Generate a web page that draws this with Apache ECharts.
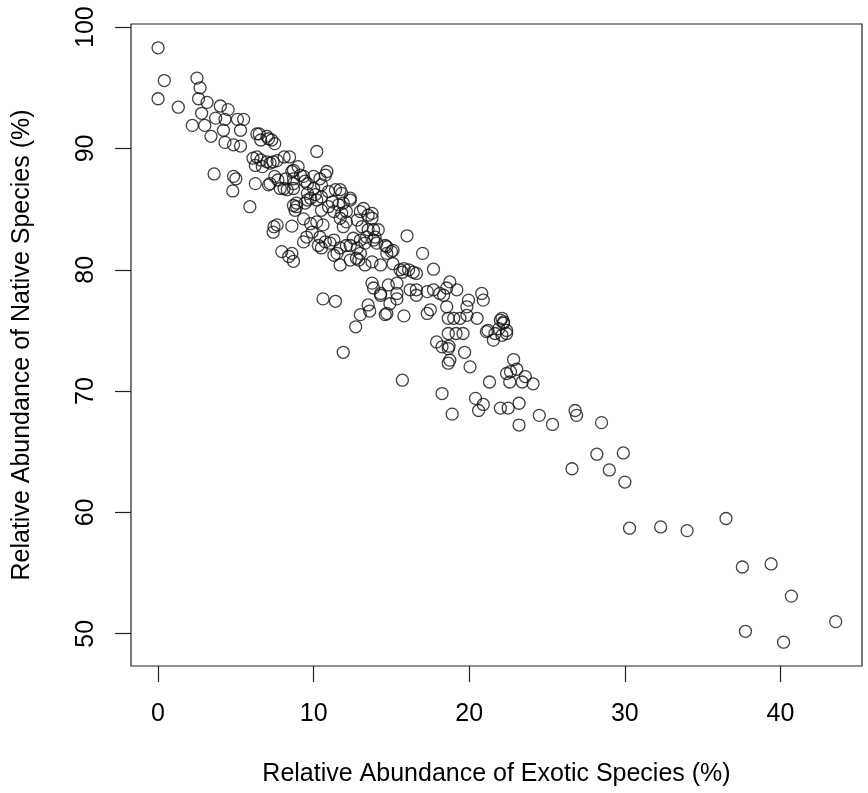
<!DOCTYPE html>
<html>
<head>
<meta charset="utf-8">
<script src="https://cdn.jsdelivr.net/npm/echarts@6/dist/echarts.min.js"></script>
<style>
  html, body { margin: 0; padding: 0; background: #fff; }
  #chart { width: 868px; height: 793px; }
</style>
</head>
<body>
<div id="chart"></div>
<script>
// [exotic %, native %], grouped by exotic range
const lowExotic = [
  [0, 98.3], [0, 94.1], [0.4, 95.6], [1.3, 93.4], [2.5, 95.8], [2.7, 95.0], [2.6, 94.1],
  [3.15, 93.8], [2.8, 92.9], [2.2, 91.9], [3.0, 91.9], [3.4, 91.0], [4.0, 93.5], [4.5, 93.2],
  [3.7, 92.5], [4.3, 92.4], [4.2, 91.5], [5.1, 92.4], [5.5, 92.4], [5.3, 91.5], [4.3, 90.5],
  [4.85, 90.3], [5.3, 90.2], [3.6, 87.9], [4.85, 87.7], [5.0, 87.5], [4.8, 86.5], [5.9, 85.2]
];
const earlyExotic = [
  [6.35, 91.2], [6.5, 91.2], [7.0, 91.0], [7.1, 90.8], [7.3, 90.7], [7.5, 90.4], [6.6, 90.7],
  [6.35, 89.3], [6.1, 89.2], [6.6, 89.05], [7.0, 88.9], [7.4, 88.9], [7.65, 89.0], [6.25, 88.6],
  [6.7, 88.5], [7.2, 88.8], [8.1, 89.3], [8.45, 89.3], [6.25, 87.1], [7.1, 87.0], [7.2, 87.1],
  [7.7, 87.4], [8.1, 86.7], [7.85, 86.7], [8.3, 86.6], [8.7, 86.7], [8.7, 87.5], [9.35, 87.7],
  [8.6, 88.1], [9.0, 88.5], [8.7, 88.2], [9.15, 87.8], [7.5, 87.7], [8.2, 87.5], [9.45, 87.3],
  [9.6, 87.1], [8.7, 87.1], [7.65, 83.7], [7.4, 83.1], [8.6, 83.6], [7.45, 83.55], [7.95, 81.5],
  [8.4, 81.1], [8.6, 81.35], [8.7, 80.7], [8.8, 84.9], [8.7, 85.3], [8.9, 85.5], [8.9, 85.2],
  [9.45, 85.5], [9.35, 84.2], [9.6, 85.75]
];
const midExotic = [
  [10.0, 87.7], [10.0, 86.7], [10.1, 86.2], [10.2, 89.75], [10.85, 88.1], [10.4, 87.5],
  [10.5, 87.0], [9.6, 86.3], [9.8, 85.9], [10.2, 85.75], [10.5, 86.0], [10.95, 86.45],
  [11.4, 86.6], [11.8, 86.3], [12.35, 85.9], [11.2, 85.6], [11.6, 85.35], [10.95, 85.2],
  [10.5, 84.9], [11.3, 84.8], [11.8, 84.65], [12.1, 84.8], [11.7, 84.25], [12.1, 83.95],
  [12.8, 84.1], [13.0, 84.8], [13.5, 84.5], [13.75, 84.25], [13.1, 83.55], [13.5, 83.3],
  [13.85, 83.3], [13.95, 82.7], [13.4, 82.7], [13.0, 82.45], [12.55, 82.6], [12.35, 82.0],
  [12.8, 81.8], [13.0, 81.35], [12.9, 80.8], [12.1, 82.0], [11.7, 81.8], [11.5, 81.35],
  [11.05, 82.2], [10.75, 82.3], [10.3, 82.0], [10.5, 81.8], [11.7, 80.4], [11.3, 81.2],
  [13.3, 80.4], [13.75, 80.65], [9.8, 83.8], [10.2, 83.95], [10.6, 83.7], [9.9, 83.1],
  [9.55, 82.7], [9.35, 82.3], [10.4, 82.7], [10.6, 77.6], [11.4, 77.4], [10.75, 87.8],
  [11.7, 86.6], [12.35, 85.75], [13.2, 85.05], [13.75, 84.65], [11.9, 83.55], [11.3, 82.45],
  [12.35, 80.8], [12.75, 80.95], [11.9, 85.5], [11.9, 73.2], [12.7, 75.3], [13.0, 76.3]
];
const upperExotic = [
  [14.3, 80.4], [14.7, 81.35], [15.1, 81.6], [14.7, 81.9], [14.05, 82.2], [16.0, 82.8],
  [15.8, 80.1], [16.1, 80.0], [16.4, 79.8], [15.55, 80.0], [16.6, 79.7], [15.7, 79.8],
  [15.1, 80.5], [13.3, 82.2], [13.85, 82.45], [14.6, 82.0], [15.0, 81.5], [14.15, 83.3],
  [13.75, 78.9], [13.85, 78.5], [14.3, 78.05], [14.8, 78.75], [15.35, 78.05], [15.35, 78.9],
  [14.3, 77.9], [15.35, 77.6], [14.9, 77.2], [13.5, 77.1], [13.6, 76.6], [14.6, 76.3],
  [14.7, 76.4], [15.8, 76.2], [15.7, 70.9], [16.2, 78.35], [16.6, 78.35], [17.3, 78.2],
  [17.7, 78.35], [16.6, 77.9], [17.0, 81.35], [17.7, 80.05]
];
const highExotic = [
  [18.1, 78.05], [18.55, 78.5], [19.2, 78.35], [18.75, 79.0], [18.35, 77.9], [17.3, 76.4],
  [17.5, 76.7], [18.55, 76.95], [18.65, 76.0], [19.0, 76.0], [19.4, 76.0], [19.85, 76.25],
  [19.95, 77.5], [19.85, 76.95], [20.5, 76.0], [20.8, 78.05], [20.9, 77.5], [21.2, 75.0],
  [21.65, 74.75], [22.0, 75.85], [22.1, 76.0], [22.2, 75.7], [22.4, 75.0], [21.55, 74.2],
  [21.1, 74.9], [21.9, 75.15], [22.2, 75.6], [22.1, 74.6], [22.4, 74.75], [17.9, 74.05],
  [18.25, 73.65], [18.65, 73.5], [18.7, 73.7], [18.65, 72.3], [18.75, 72.55], [18.65, 74.75],
  [19.15, 74.75], [19.6, 74.75], [19.7, 73.2], [20.05, 72.0], [18.25, 69.8], [18.9, 68.1],
  [20.4, 69.4], [20.9, 68.9], [20.6, 68.4], [21.3, 70.75], [22.85, 72.6], [22.4, 71.45],
  [22.65, 71.6], [23.05, 71.8], [23.6, 71.2], [23.4, 70.75], [24.1, 70.6], [22.6, 70.75],
  [22.0, 68.6], [22.5, 68.6], [23.2, 69.0], [23.2, 67.2], [24.5, 68.0], [25.35, 67.25]
];
const extremeExotic = [
  [26.8, 68.4], [26.9, 68.0], [28.5, 67.4], [26.6, 63.6], [28.2, 64.8], [29.0, 63.5],
  [29.9, 64.9], [30.0, 62.5], [30.3, 58.7], [32.3, 58.8], [34.0, 58.5], [36.5, 59.5],
  [37.55, 55.5], [39.4, 55.75], [40.7, 53.1], [43.55, 51.0], [37.75, 50.2], [40.2, 49.3]
];

const xTicks = [0, 10, 20, 30, 40];
const yTicks = [50, 60, 70, 80, 90, 100];
const xTitle = 'Relative Abundance of Exotic Species (%)';
const yTitle = 'Relative Abundance of Native Species (%)';

const points = [].concat(lowExotic, earlyExotic, midExotic, upperExotic, highExotic, extremeExotic);

const font = '"Liberation Sans", Arial, sans-serif';
const ink = '#222';

const chart = echarts.init(document.getElementById('chart'));

chart.setOption({
  animation: false,
  backgroundColor: '#fff',
  grid: {
    left: 131, right: 6, top: 24, bottom: 127,
    show: true, borderColor: ink, borderWidth: 1.2, backgroundColor: 'transparent'
  },
  xAxis: {
    type: 'value',
    min: -1.74, max: 45.24,
    name: xTitle, nameLocation: 'middle', nameGap: 96,
    nameTextStyle: { fontFamily: font, fontSize: 25, color: '#000' },
    axisLine: { show: false, onZero: false },
    splitLine: { show: false },
    axisTick: { show: true, customValues: xTicks, length: 16, lineStyle: { color: ink, width: 1.2 } },
    axisLabel: { customValues: xTicks, margin: 36, fontFamily: font, fontSize: 25, color: '#000' }
  },
  yAxis: {
    type: 'value',
    min: 47.34, max: 100.26,
    name: yTitle, nameLocation: 'middle', nameGap: 96, nameRotate: 90,
    nameTextStyle: { fontFamily: font, fontSize: 25, color: '#000' },
    axisLine: { show: false, onZero: false },
    splitLine: { show: false },
    axisTick: { show: true, customValues: yTicks, length: 16, lineStyle: { color: ink, width: 1.2 } },
    axisLabel: { customValues: yTicks, rotate: 90, margin: 32, fontFamily: font, fontSize: 25, color: '#000' }
  },
  series: [{
    type: 'scatter',
    data: points,
    symbol: 'circle',
    symbolSize: 12,
    silent: true,
    itemStyle: { color: 'rgba(0,0,0,0)', borderColor: '#111', borderWidth: 1.3 }
  }]
});
</script>
</body>
</html>
